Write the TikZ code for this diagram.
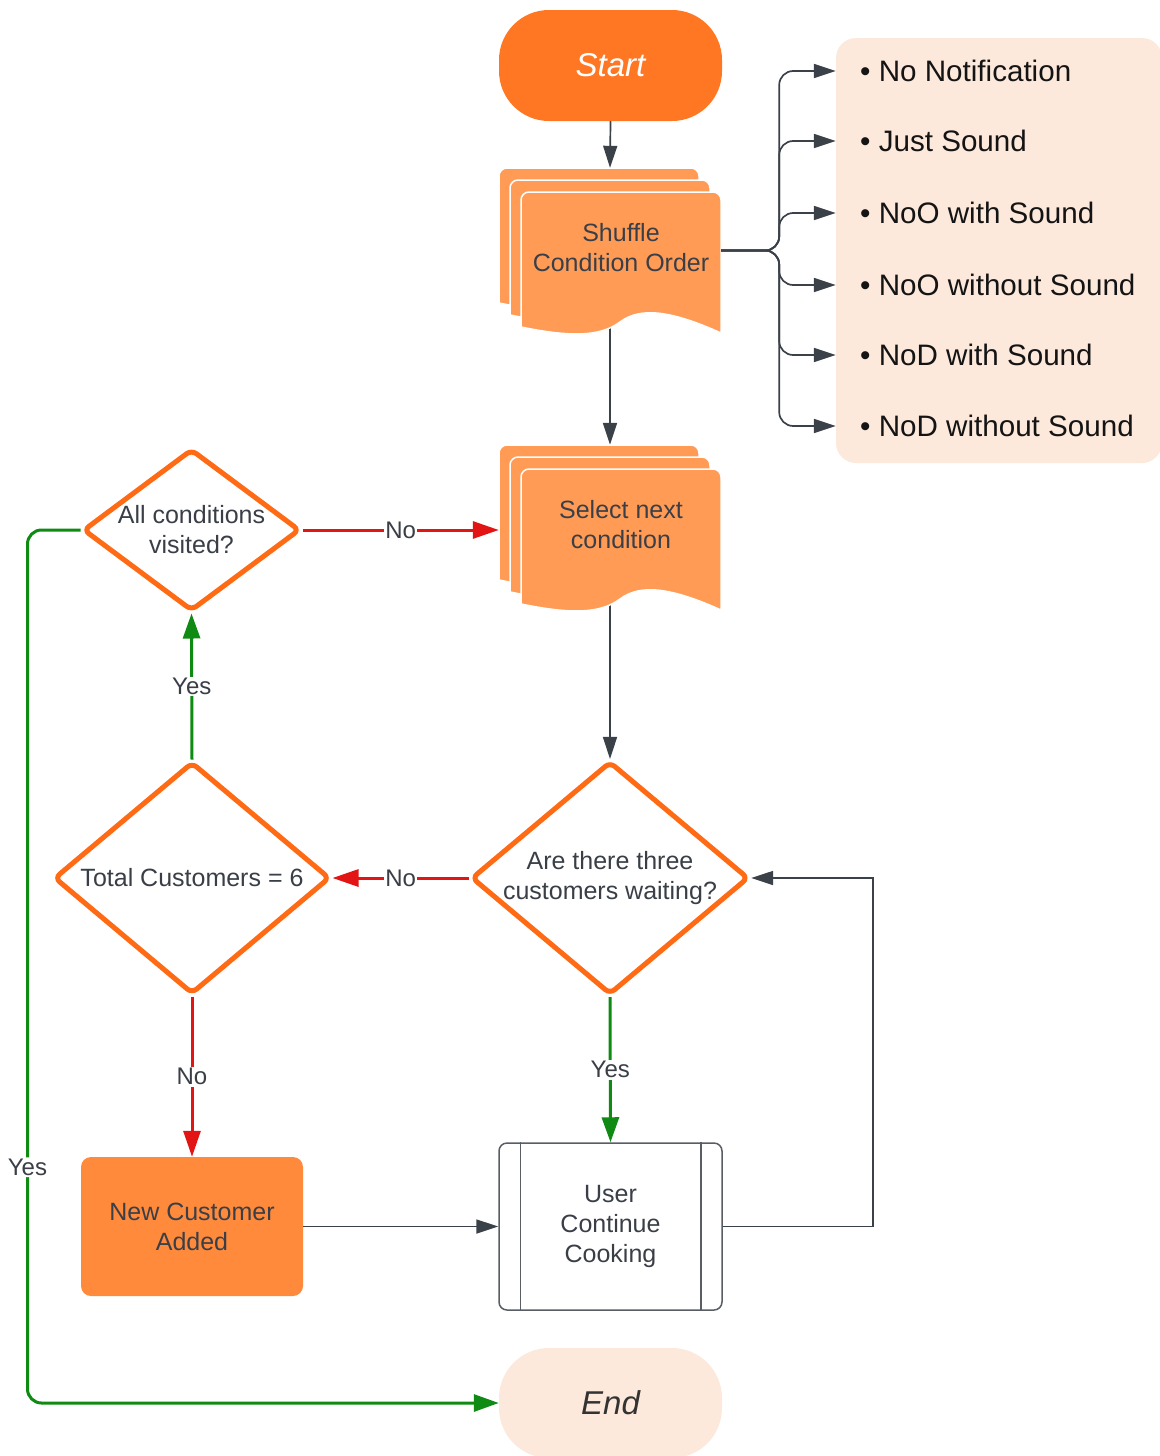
\documentclass[tikz,border=0pt]{standalone}
\usepackage{fontspec}
\setmainfont{Liberation Sans}
\usetikzlibrary{arrows.meta,positioning,shapes.geometric,calc,backgrounds}
\definecolor{startorange}{HTML}{FF7722}
\definecolor{docorange}{HTML}{FF9B55}
\definecolor{boxorange}{HTML}{FF8A3B}
\definecolor{rimorange}{HTML}{FF6A14}
\definecolor{peach}{HTML}{FDE9DB}
\definecolor{nored}{HTML}{E31414}
\definecolor{yesgreen}{HTML}{0F8A12}
\definecolor{slate}{HTML}{3B4149}
\definecolor{txtgray}{HTML}{3A3F47}
\tikzset{
  terminal/.style={rounded corners=50pt,minimum width=223pt,minimum height=111pt,
                   inner sep=0pt,font=\fontsize{33}{36}\selectfont\itshape},
  docpage/.style={fill=docorange,draw=white,line width=1.5pt},
  stackbox/.style={minimum width=222pt,minimum height=165pt,inner sep=0pt},
  doctext/.style={align=center,text=txtgray,inner sep=0pt,
                  font=\fontsize{25}{30}\selectfont},
  listbox/.style={fill=peach,rounded corners=20pt,minimum width=326pt,
                  minimum height=425pt,inner sep=0pt},
  item/.style={anchor=west,inner sep=0pt,text=black!92,
               font=\fontsize{29.6}{34}\selectfont},
  decision/.style={diamond,draw=rimorange,fill=white,line width=5pt,
                   rounded corners=6pt,inner sep=0pt,align=center,text=txtgray,
                   font=\fontsize{25}{30}\selectfont},
  taskbox/.style={fill=boxorange,rounded corners=10pt,minimum width=222pt,
                  minimum height=139pt,align=center,text=txtgray,
                  font=\fontsize{25}{30}\selectfont},
  process/.style={draw=slate!85,line width=1.5pt,fill=white,rounded corners=8pt,
                  minimum width=223pt,minimum height=167pt,align=center,
                  text=txtgray,font=\fontsize{25}{30}\selectfont},
  lbl/.style={fill=white,inner sep=1.5pt,text=txtgray,
              font=\fontsize{24}{26}\selectfont},
  darrow/.style={-{Triangle[length=22pt,width=14pt]},line width=1.7pt,draw=slate},
  noarr/.style={-{Triangle[length=26pt,width=17pt]},line width=3pt,draw=nored},
  yesarr/.style={-{Triangle[length=25pt,width=17pt]},line width=3pt,draw=yesgreen}
}
% one sheet of a stacked document, top left corner at (#1,#2)
\newcommand{\docpage}[2]{%
  \filldraw[docpage] (#1,#2+135) [rounded corners=8pt] -- (#1,#2) -- (#1+200,#2)
    [sharp corners] -- (#1+200,#2+141)
    .. controls (#1+149,#2+118) and (#1+119,#2+115) .. (#1+99,#2+130)
    .. controls (#1+79,#2+145) and (#1+49,#2+145) .. (#1,#2+135) -- cycle;}

\begin{document}
\begin{tikzpicture}[x=1pt,y=-1pt]
    \path[use as bounding box] (0,0) rectangle (1159,1456);

    \node[terminal,fill=startorange,text=white] (start) at (610.5,65.5) {Start};

    \docpage{499}{168}\docpage{510}{180}\docpage{521}{192}
    \node[stackbox] (shuffle) at (610,250.5) {};
    \node[doctext] (shuffletxt) at (621,248) {Shuffle\\Condition Order};

    \docpage{499}{445}\docpage{510}{457}\docpage{521}{469}
    \node[stackbox] (select) at (610,527.5) {};
    \node[doctext] (selecttxt) at (621,525) {Select next\\condition};

    % conditions list
    \node[listbox] (opts) at (999,250.5) {};
    \node[item] (opt1) at (860,71) {• No Notification};
    \node[item] (opt2) at (860,141) {• Just Sound};
    \node[item] (opt3) at (860,213) {• NoO with Sound};
    \node[item] (opt4) at (860,285) {• NoO without Sound};
    \node[item] (opt5) at (860,355) {• NoD with Sound};
    \node[item] (opt6) at (860,426) {• NoD without Sound};

    \node[decision,aspect=1.34,minimum width=217pt,minimum height=162pt]
      (allvis) at (191.5,530) {All conditions\\visited?};
    \node[decision,aspect=1.19,minimum width=276pt,minimum height=232pt]
      (totalc) at (192,878) {Total Customers = 6};
    \node[decision,aspect=1.19,minimum width=276pt,minimum height=232pt]
      (arewait) at (610,878) {Are there three\\customers waiting?};

    \node[taskbox] (newcust) at (192,1226.5) {New Customer\\Added};
    \node[process] (cook) at (610.5,1226.5) {User\\Continue\\Cooking};
    \draw[slate!85,line width=1.5pt] ($(cook.north west)+(22,0)$) -- ($(cook.south west)+(22,0)$);
    \draw[slate!85,line width=1.5pt] ($(cook.north east)+(-22,0)$) -- ($(cook.south east)+(-22,0)$);

    \node[terminal,fill=peach,text=black!80,minimum height=110pt] (finish) at (610.5,1403) {End};

    \draw[darrow] (start.south) -- (shuffle.north);
    \begin{scope}[on background layer]
      \draw[darrow] (shuffle.center) -- (select.north);
      \draw[darrow] (select.center) -- (arewait.north);
    \end{scope}

    \draw[darrow,rounded corners=14pt] (shuffle.east) -- ++(58,0) |- (opts.west |- opt1.west);
    \draw[darrow,rounded corners=14pt] (shuffle.east) -- ++(58,0) |- (opts.west |- opt2.west);
    \draw[darrow,rounded corners=14pt] (shuffle.east) -- ++(58,0) |- (opts.west |- opt3.west);
    \draw[darrow,rounded corners=14pt] (shuffle.east) -- ++(58,0) |- (opts.west |- opt4.west);
    \draw[darrow,rounded corners=14pt] (shuffle.east) -- ++(58,0) |- (opts.west |- opt5.west);
    \draw[darrow,rounded corners=14pt] (shuffle.east) -- ++(58,0) |- (opts.west |- opt6.west);

    \draw[noarr] (allvis.east) -- node[lbl] {No} (allvis.east -| select.west);
    \draw[yesarr] (totalc.north) -- node[lbl] {Yes} (allvis.south);
    \draw[noarr] (arewait.west) -- node[lbl] {No} (totalc.east);
    \draw[yesarr] (arewait.south) -- node[lbl] {Yes} (cook.north);
    \draw[noarr] (totalc.south) -- node[lbl] {No} (newcust.north);
    \draw[darrow] (newcust.east) -- (cook.west);
    \draw[darrow] (cook.east) -| ([xshift=122pt]arewait.east) -- (arewait.east);
    \draw[yesarr,rounded corners=14pt] (allvis.west)
      -| node[lbl,pos=0.865] {Yes} ([xshift=-53pt]allvis.west |- finish.west) -- (finish.west);
  \end{tikzpicture}
\end{document}
